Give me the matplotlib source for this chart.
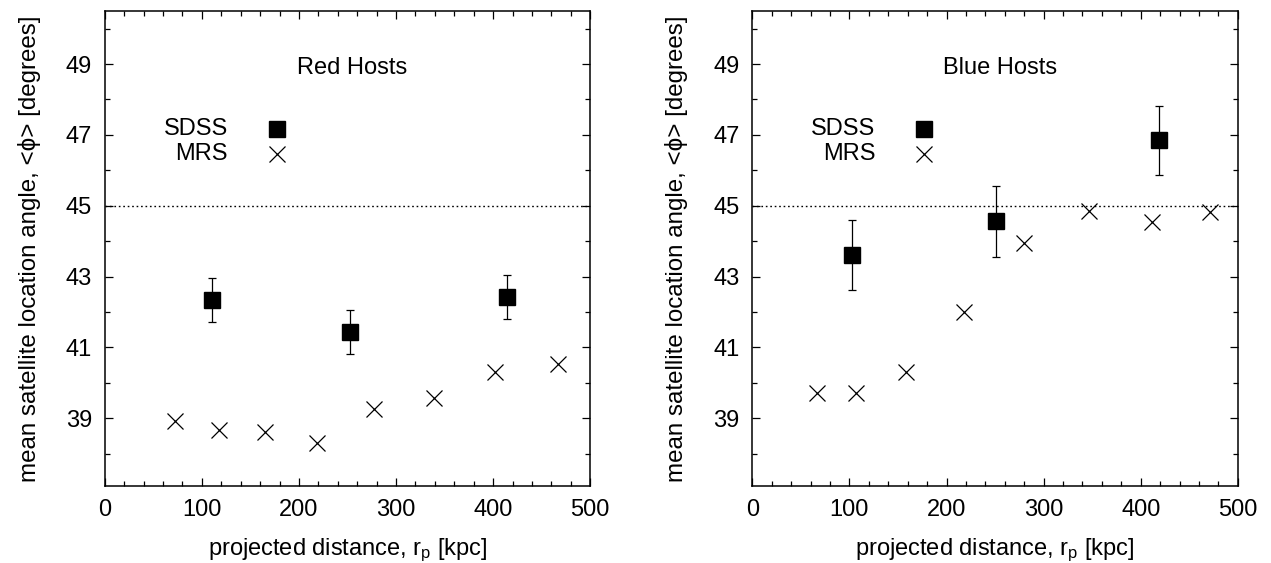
import numpy as np
import matplotlib
matplotlib.use('Agg')
import matplotlib.pyplot as plt

plt.rcParams['font.family'] = ['Liberation Sans', 'DejaVu Sans']
plt.rcParams['mathtext.fontset'] = 'custom'
plt.rcParams['mathtext.rm'] = 'Liberation Sans'
plt.rcParams['mathtext.it'] = 'Liberation Sans:italic'

# Red hosts
red_sdss_x = [110.4, 252.3, 414.5]
red_sdss_y = [42.33, 41.43, 42.43]
red_sdss_err = [0.62, 0.63, 0.62]
red_mrs_x = [72.5, 117.5, 165.5, 219.0, 277.6, 338.7, 402.3, 467.1]
red_mrs_y = [38.92, 38.67, 38.60, 38.31, 39.27, 39.58, 40.31, 40.52]

# Blue hosts
blue_sdss_x = [102.9, 250.6, 418.7]
blue_sdss_y = [43.61, 44.56, 46.85]
blue_sdss_err = [1.0, 1.01, 0.98]
blue_mrs_x = [66.8, 106.6, 158.1, 217.8, 280.1, 346.5, 411.6, 471.4]
blue_mrs_y = [39.72, 39.72, 40.29, 41.99, 43.96, 44.84, 44.54, 44.81]

panels = [
    ('Red Hosts', red_sdss_x, red_sdss_y, red_sdss_err, red_mrs_x, red_mrs_y),
    ('Blue Hosts', blue_sdss_x, blue_sdss_y, blue_sdss_err, blue_mrs_x, blue_mrs_y),
]

fs = 17
fig = plt.figure(figsize=(12.71, 5.63), dpi=100)
lefts = [0.0824, 0.5919]

for left, (title, sx, sy, se, mx, my) in zip(lefts, panels):
    ax = fig.add_axes([left, 0.1359, 0.382, 0.8446])
    ax.axhline(45, color='black', linestyle=(0, (1.2, 2)), linewidth=1.0)
    ax.errorbar(sx, sy, yerr=se, fmt='none', ecolor='black', elinewidth=0.9,
                capsize=2.7, capthick=0.9)
    ax.plot(sx, sy, 's', color='black', markersize=12)
    ax.plot(mx, my, 'x', color='black', markersize=11, markeredgewidth=0.9)

    # key
    ax.plot([177], [47.16], 's', color='black', markersize=12)
    ax.plot([177], [46.45], 'x', color='black', markersize=11, markeredgewidth=0.9)
    ax.text(127, 47.16, 'SDSS', ha='right', va='center', fontsize=fs)
    ax.text(127, 46.45, 'MRS', ha='right', va='center', fontsize=fs)
    ax.text(255, 48.88, title, ha='center', va='center', fontsize=fs)

    ax.set_xlim(0, 500)
    ax.set_ylim(37.07, 50.5)
    ax.set_xticks(np.arange(0, 501, 100))
    ax.set_xticks(np.arange(0, 501, 20), minor=True)
    ax.set_yticks([39, 41, 43, 45, 47, 49])
    ax.set_yticks(np.arange(38, 51, 1), minor=True)
    ax.tick_params(which='both', direction='in', top=True, right=True,
                   labelsize=fs, width=0.9)
    ax.tick_params(which='major', length=6, pad=9)
    ax.tick_params(which='minor', length=3.5)
    for sp in ax.spines.values():
        sp.set_linewidth(1.1)
    ax.set_xlabel('projected distance, r$_\\mathrm{p}$ [kpc]', fontsize=fs, labelpad=11)
    ax.set_ylabel('mean satellite location angle, <ϕ> [degrees]', fontsize=17.4, labelpad=18)

fig.savefig('out.png', dpi=100)
